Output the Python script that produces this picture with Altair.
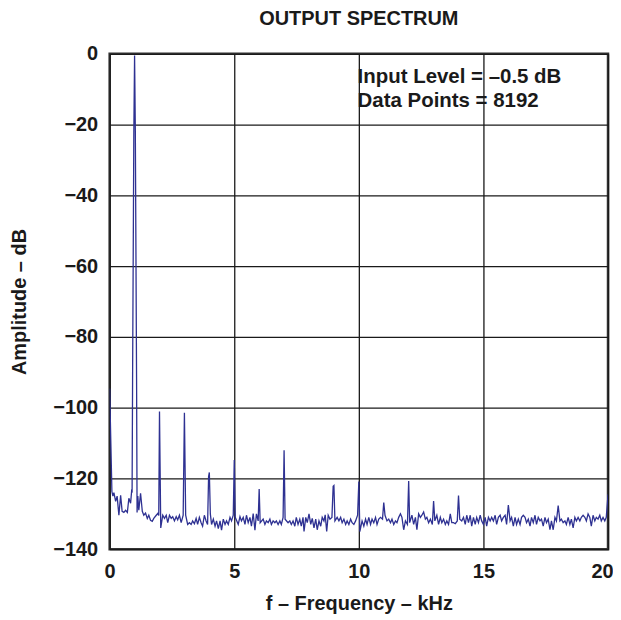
import altair as alt
import pandas as pd

freq_khz = [
    0.0, 0.09, 0.13, 0.17, 0.24, 0.3, 0.37, 0.44, 0.5, 0.57, 0.64, 0.71, 0.77, 0.84, 0.88,
    0.9, 0.92, 0.97, 1.0, 1.03, 1.08, 1.1,
    1.13, 1.17, 1.24, 1.31, 1.37, 1.44, 1.51, 1.57, 1.64, 1.71, 1.77, 1.87, 1.93, 1.97,
    2.0, 2.05, 2.13, 2.2, 2.27, 2.33, 2.4, 2.47, 2.53, 2.6, 2.67, 2.73, 2.8, 2.87, 2.95,
    3.0, 3.05, 3.13, 3.2, 3.27, 3.33, 3.4, 3.47, 3.53, 3.6, 3.67, 3.73, 3.8, 3.87, 3.93,
    3.97, 4.0, 4.04, 4.09, 4.16, 4.23, 4.29, 4.36, 4.43, 4.49, 4.56, 4.63, 4.69, 4.76, 4.83, 4.89, 4.96,
    5.0, 5.04, 5.16, 5.23, 5.29, 5.36, 5.43, 5.49, 5.56, 5.63, 5.69, 5.76, 5.83, 5.89, 5.96,
    6.0, 6.04, 6.16, 6.23, 6.29, 6.36, 6.43, 6.49, 6.56, 6.63, 6.69, 6.76, 6.83, 6.89, 6.96,
    7.0, 7.04, 7.16, 7.23, 7.29, 7.36, 7.43, 7.49, 7.56, 7.63, 7.69, 7.76, 7.8, 7.87, 7.93,
    8.0, 8.07, 8.13, 8.2, 8.27, 8.33, 8.4, 8.47, 8.53, 8.6, 8.65, 8.71, 8.77, 8.84, 8.92,
    8.97, 9.0, 9.04, 9.13, 9.2, 9.27, 9.33, 9.4, 9.47, 9.53, 9.6, 9.67, 9.73, 9.8, 9.87, 9.95,
    10.0, 10.04, 10.13, 10.2, 10.27, 10.33, 10.4, 10.47, 10.53, 10.6, 10.67, 10.73, 10.8, 10.87, 10.95,
    11.0, 11.05, 11.13, 11.2, 11.27, 11.33, 11.4, 11.47, 11.53, 11.6, 11.67, 11.73, 11.8, 11.87, 11.95,
    12.0, 12.04, 12.13, 12.2, 12.27, 12.33, 12.4, 12.47, 12.53, 12.6, 12.67, 12.73, 12.8, 12.87, 12.95,
    13.0, 13.05, 13.13, 13.2, 13.27, 13.33, 13.4, 13.47, 13.53, 13.6, 13.67, 13.73, 13.8, 13.87, 13.95,
    14.0, 14.05, 14.13, 14.2, 14.27, 14.33, 14.4, 14.47, 14.53, 14.6, 14.67, 14.73, 14.8, 14.87, 14.93,
    15.0, 15.07, 15.13, 15.2, 15.27, 15.33, 15.4, 15.47, 15.53, 15.6, 15.67, 15.73, 15.8, 15.87, 15.93,
    16.0, 16.07, 16.13, 16.2, 16.27, 16.33, 16.4, 16.47, 16.53, 16.6, 16.67, 16.73, 16.8, 16.87, 16.93,
    17.0, 17.07, 17.13, 17.2, 17.27, 17.33, 17.4, 17.47, 17.53, 17.6, 17.67, 17.73, 17.8, 17.87, 17.93,
    18.0, 18.07, 18.13, 18.2, 18.27, 18.33, 18.4, 18.47, 18.53, 18.6, 18.67, 18.73, 18.8, 18.87, 18.93,
    19.0, 19.07, 19.13, 19.2, 19.27, 19.33, 19.4, 19.47, 19.53, 19.6, 19.67, 19.73, 19.8, 19.87, 19.93,
    20.0,
]

amplitude_db = [
    -94.6, -123.7, -125, -124, -126.5, -125, -130.4, -124.8, -129.3, -129.6, -129, -129.6, -125.6, -127, -123.7,
    -124, -92, -22, -0.5, -22, -92, -129.6,
    -125, -129, -124.2, -129.3, -130.4, -129.8, -131.3, -130.4, -131.8, -132.1, -131.3, -130.4, -129.9, -130.5,
    -101.1, -134, -130.4, -131.3, -130.4, -132.5, -130.4, -131.3, -130.8, -132, -130.8, -131.7, -130.4, -132.5, -130.4,
    -101.4, -130.4, -133, -132.5, -133, -132, -132.8, -131.3, -133, -131, -132.5, -133.5, -130.4, -132, -133,
    -119.5, -118.3, -130, -133, -131.5, -133.5, -132, -134.2, -132, -134.6, -131.5, -133, -132, -133, -131, -132, -130.4,
    -114.8, -131, -133, -130.8, -132, -131, -133, -130.4, -132.5, -131, -133.5, -129.9, -134.6, -130, -132,
    -123, -132.5, -131.5, -133, -132, -132.5, -131.5, -133, -132, -132.5, -132, -133, -132, -133, -131,
    -112, -131.5, -132.5, -132, -133, -132, -133.5, -131, -133, -131.5, -133.5, -131, -135, -131, -132.5,
    -130, -133, -131.3, -134, -131.5, -134.5, -132, -133.5, -131, -132, -130.3, -135, -130.4, -131.5, -131,
    -122.2, -122, -132, -131, -132, -131, -132.5, -131.5, -133, -132, -133, -131.5, -132.5, -133, -132, -130.4,
    -120.9, -135, -132, -133.5, -131.5, -133, -131, -133, -131.5, -132.5, -131, -133, -131.5, -131, -131.5,
    -126.8, -130.4, -132, -131.5, -132.5, -131.5, -133, -132, -132.5, -131, -130, -131, -134.5, -132, -133,
    -120.7, -132.5, -130.4, -133, -131, -134.5, -130, -131, -130.4, -129.5, -131.5, -131, -132.5, -131.5, -133,
    -126.4, -132, -130.4, -133, -131, -132.5, -131.5, -133, -132, -133, -130, -132.5, -132.5, -132.8, -132,
    -124.8, -131.5, -132, -131, -133, -130.4, -132.5, -130.4, -133.5, -131, -133, -131, -132.5, -130.4, -132,
    -133, -131, -133.5, -131, -132, -131, -132, -130.4, -133, -131, -130.4, -132, -131, -130.4, -133,
    -127.5, -132, -131, -133.5, -131, -133, -131.5, -133, -131, -130.4, -131, -132.5, -131.5, -133.5, -131,
    -132.5, -130.4, -133, -131, -132, -131.5, -133.5, -131, -132.5, -131.5, -134.5, -132, -134.5, -131, -132,
    -127.7, -132, -131.5, -132.5, -132, -133, -131, -133, -131.5, -134, -131, -132, -131, -132, -131,
    -130.4, -131, -132, -130, -131, -133.5, -130.4, -132, -131, -131.5, -130.4, -132, -131, -132, -131,
    -124.5,
]

x_ticks = [0, 5, 10, 15, 20]
y_ticks = [0, -20, -40, -60, -80, -100, -120, -140]

note_lines = ["Input Level = \u20130.5 dB", "Data Points = 8192"]
note_x = [9.95, 9.95]
note_y = [-6.5, -13.2]

FONT = "Liberation Sans"

spec = pd.DataFrame({"f": freq_khz, "a": amplitude_db})
notes = pd.DataFrame({"text": note_lines, "x": note_x, "y": note_y})

x_scale = alt.Scale(domain=[0, 20], nice=False, zero=False)
y_scale = alt.Scale(domain=[-140, 0], nice=False, zero=False)

line = alt.Chart(spec).mark_line(color="#2e3192", strokeWidth=1.3, clip=True).encode(
    x=alt.X("f:Q", scale=x_scale,
            axis=alt.Axis(values=x_ticks, title="f \u2013 Frequency \u2013 kHz", tickSize=0,
                          labelPadding=12, labelFlush=False, labelOverlap=False,
                          labelOffset={"expr": "datum.value == 20 ? -6 : 0"},
                          titleY=54, titleBaseline="middle", domain=False,
                          gridColor="#1a1a1a", gridWidth=1.3, gridOpacity=1)),
    y=alt.Y("a:Q", scale=y_scale,
            axis=alt.Axis(values=y_ticks, title="Amplitude \u2013 dB", tickSize=0,
                          labelPadding=12, labelFlush=False, labelOverlap=False,
                          titleX=-90, titleBaseline="middle", domain=False,
                          gridColor="#1a1a1a", gridWidth=1.3, gridOpacity=1)),
)

text = alt.Chart(notes).mark_text(
    align="left", baseline="middle", font=FONT, fontSize=20.5, fontWeight="bold", color="#1a1a1a"
).encode(
    x=alt.X("x:Q", scale=x_scale),
    y=alt.Y("y:Q", scale=y_scale),
    text="text:N",
)

chart = (line + text).properties(
    width=500,
    height=497,
    title=alt.TitleParams("OUTPUT SPECTRUM", font=FONT, fontSize=20, fontWeight="bold",
                          color="#1a1a1a", offset=15, anchor="middle"),
    autosize=alt.AutoSizeParams(type="none"),
    padding={"left": 102, "top": 45, "right": 5, "bottom": 64},
).configure_view(
    stroke="#333333", strokeWidth=2.5
).configure_axis(
    labelFont=FONT, labelFontSize=20, labelFontWeight="bold", labelColor="#1a1a1a",
    titleFont=FONT, titleFontSize=20, titleFontWeight="bold", titleColor="#1a1a1a",
)

chart.save("out.html", embed_options={"renderer": "svg", "actions": False})
